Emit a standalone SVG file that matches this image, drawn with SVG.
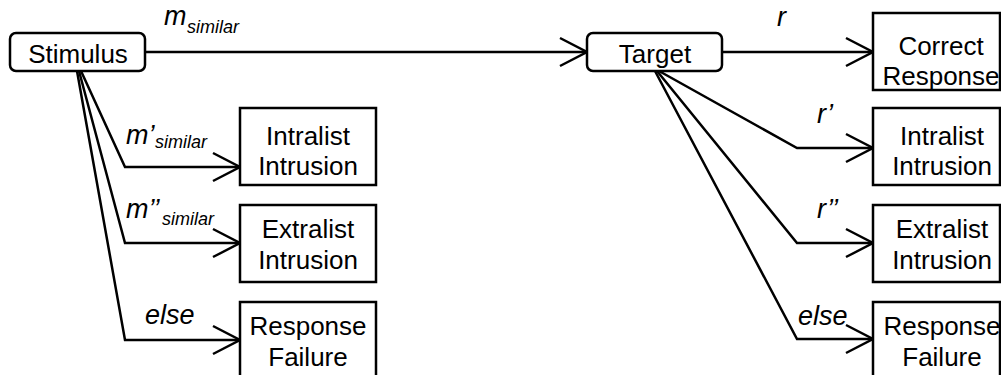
<svg xmlns="http://www.w3.org/2000/svg" width="1001" height="375" viewBox="0 0 1001 375">
<defs>
<marker id="arr" markerUnits="userSpaceOnUse" markerWidth="32" markerHeight="32" viewBox="-30 -16 32 32" refX="0" refY="0" orient="auto" overflow="visible">
<path d="M-27,-14 L0,0 L-27,14" fill="none" stroke="#000" stroke-width="2.5"/>
</marker>
</defs>
<style>
.box{fill:#fff;stroke:#000;stroke-width:2.5}
.t{font-family:"Liberation Sans",Arial,sans-serif;font-size:26px;fill:#000;text-anchor:middle}
.lab{font-family:"Liberation Sans",Arial,sans-serif;font-size:27px;font-style:italic;fill:#000}
.sub{font-size:18px}
.c{fill:none;stroke:#000;stroke-width:2.5;stroke-linejoin:miter;marker-end:url(#arr)}
</style>
<rect width="1001" height="375" fill="#fff"/>
<g id="connectors">
<polyline class="c" points="145,52 587,52"/>
<polyline class="c" points="722,52 873,52"/>
<polyline class="c" points="81,71 125,167 240,167"/>
<polyline class="c" points="79,71 125,243 240,243"/>
<polyline class="c" points="77,71 125,340 240,340"/>
<polyline class="c" points="659,71 797,148 873,148"/>
<polyline class="c" points="657,71 797,243 873,243"/>
<polyline class="c" points="655,71 797,339 873,339"/>
</g>
<g id="labels">
<text class="lab" x="164" y="25">m<tspan class="sub" x="187" y="33">similar</tspan></text>
<text class="lab" x="126" y="144">m’<tspan class="sub" x="155" y="148">similar</tspan></text>
<text class="lab" x="126" y="218">m’’<tspan class="sub" x="162" y="225">similar</tspan></text>
<text class="lab" x="145" y="324">else</text>
<text class="lab" x="777" y="26">r</text>
<text class="lab" x="817" y="123">r’</text>
<text class="lab" x="817" y="218">r’’</text>
<text class="lab" x="798" y="325">else</text>
</g>
<g id="stimulus">
<rect class="box" x="10" y="33" width="135" height="38" rx="6"/>
<text class="t" x="78" y="63">Stimulus</text>
</g>
<g id="target">
<rect class="box" x="587" y="33" width="135" height="38" rx="6"/>
<text class="t" x="655" y="63">Target</text>
</g>
<g id="left-intralist">
<rect class="box" x="240" y="108" width="136" height="77"/>
<text class="t" x="308" y="145">Intralist</text>
<text class="t" x="308" y="175">Intrusion</text>
</g>
<g id="left-extralist">
<rect class="box" x="240" y="205" width="136" height="77"/>
<text class="t" x="308" y="238">Extralist</text>
<text class="t" x="308" y="269">Intrusion</text>
</g>
<g id="left-failure">
<rect class="box" x="240" y="302" width="136" height="80"/>
<text class="t" x="308" y="335">Response</text>
<text class="t" x="308" y="366">Failure</text>
</g>
<g id="correct-response">
<rect class="box" x="873" y="13" width="127" height="77"/>
<text class="t" x="941" y="55">Correct</text>
<text class="t" x="941" y="85">Response</text>
</g>
<g id="right-intralist">
<rect class="box" x="873" y="108" width="127" height="77"/>
<text class="t" x="942" y="145">Intralist</text>
<text class="t" x="942" y="175">Intrusion</text>
</g>
<g id="right-extralist">
<rect class="box" x="873" y="205" width="127" height="77"/>
<text class="t" x="942" y="238">Extralist</text>
<text class="t" x="942" y="269">Intrusion</text>
</g>
<g id="right-failure">
<rect class="box" x="873" y="302" width="127" height="80"/>
<text class="t" x="942" y="335">Response</text>
<text class="t" x="942" y="366">Failure</text>
</g>
</svg>
